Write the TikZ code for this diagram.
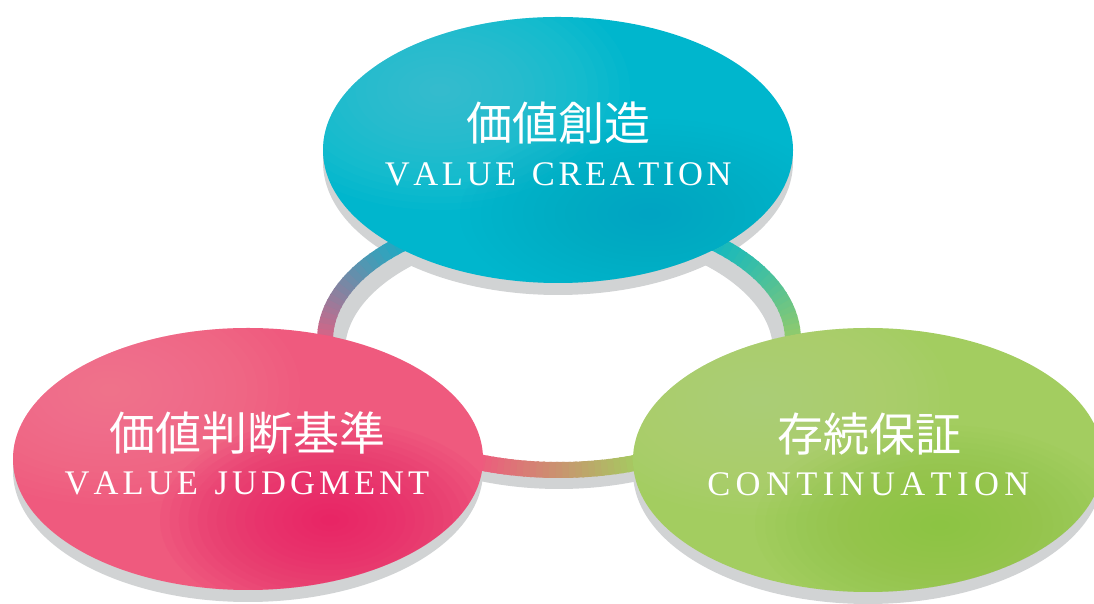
\documentclass[tikz,border=0pt]{standalone}
\usepackage{fontspec}
\newfontfamily\cjk{Noto Sans CJK JP}
\newfontfamily\capsf{Liberation Serif}
\usetikzlibrary{shapes.geometric}
\definecolor{cyanC}{HTML}{00B6CD}
\definecolor{cyanL}{HTML}{5ACDDD}
\definecolor{cyanD}{HTML}{00A4C2}
\definecolor{pinkC}{HTML}{EF5A7E}
\definecolor{pinkL}{HTML}{F5899C}
\definecolor{pinkD}{HTML}{E8105E}
\definecolor{greenC}{HTML}{A3CD60}
\definecolor{greenL}{HTML}{BCDC8C}
\definecolor{greenD}{HTML}{88C43A}
\definecolor{shadowC}{HTML}{D1D3D4}
\makeatletter
\newcommand\lsp[2]{\def\lsp@k{#1}\lsp@go#2\relax}
\def\lsp@go#1{\ifx#1\relax\else#1\kern\lsp@k\expandafter\lsp@go\fi}
\makeatother
\newcommand\softspot[5]{% color, x, y, rx, ry
  \foreach \k in {1,...,18}{
    \fill[#1, fill opacity=0.055] (#2,#3) ellipse[x radius={#4*\k/18}, y radius={#5*\k/18}];
  }}
\begin{document}
\begin{tikzpicture}[x=1pt,y=1pt,
  bubble/.style={ellipse, minimum width=470pt, minimum height=266pt, inner sep=0pt, draw=none},
  ringseg/.style={line width=16pt},
  cjkt/.style={text=white, font=\cjk\fontsize{46}{50}\selectfont, inner sep=0pt},
  ent/.style={text=white, font=\capsf\fontsize{34.5}{38}\selectfont, inner sep=0pt, anchor=base}]
\useasboundingbox (0,0) rectangle (1094,604);
\clip (0,0) rectangle (1094,604);
% ellipse shadows
\fill[shadowC] (558,442) ellipse[x radius=235, y radius=133];
\fill[shadowC] (248,133) ellipse[x radius=235, y radius=131];
\fill[shadowC] (868,132) ellipse[x radius=235, y radius=132];
% ring shadow
\draw[shadowC, line width=20pt] (559,253) ellipse[x radius=224, y radius=128];
% ring solid parts
\draw[ringseg, cyanC] ({559+234*cos(54)},{264+130*sin(54)}) arc[start angle=54, end angle=126, x radius=234, y radius=130];
\draw[ringseg, pinkC] ({559+234*cos(184)},{264+130*sin(184)}) arc[start angle=184, end angle=251, x radius=234, y radius=130];
\draw[ringseg, greenC] ({559+234*cos(289)},{264+130*sin(289)}) arc[start angle=289, end angle=356, x radius=234, y radius=130];
% ring gradient parts
\foreach \s/\e/\ca/\cb in {125/185/cyanC/pinkC, 250/290/pinkC/greenC, 355/415/greenC/cyanC}{
  \foreach \i in {0,...,24}{
    \pgfmathsetmacro\a{\s+\i*(\e-\s)/25}
    \pgfmathsetmacro\d{(\e-\s)/25+0.6}
    \pgfmathtruncatemacro\p{\i*4+2}
    \draw[ringseg, draw=\cb!\p!\ca] ({559+234*cos(\a)},{264+130*sin(\a)}) arc[start angle=\a, delta angle=\d, x radius=234, y radius=130];
  }
}
% ellipses
\node[bubble, fill=cyanC] (vc) at (558,454) {};
\begin{scope}
  \clip (558,454) ellipse[x radius=235, y radius=133];
  \softspot{cyanL}{440}{514}{190}{120}
  \softspot{cyanD}{650}{390}{190}{95}
\end{scope}
\node[bubble, fill=pinkC, minimum height=262pt] (vj) at (248,145) {};
\begin{scope}
  \clip (248,145) ellipse[x radius=235, y radius=131];
  \softspot{pinkL}{110}{214}{190}{115}
  \softspot{pinkD}{330}{84}{170}{100}
\end{scope}
\node[bubble, fill=greenC, minimum height=264pt] (ct) at (868,144) {};
\begin{scope}
  \clip (868,144) ellipse[x radius=235, y radius=132];
  \softspot{greenL}{760}{204}{190}{115}
  \softspot{greenD}{940}{79}{185}{100}
\end{scope}
% texts
\node[cjkt] (vcj) at (558,481) {価値創造};
\node[ent] (vce) at (560,418) {\lsp{3.6pt}{VALUE~CREATION}};
\node[cjkt] (vjj) at (247,171) {価値判断基準};
\node[ent] (vje) at (249,109) {\lsp{4.1pt}{VALUE~JUDGMENT}};
\node[cjkt] (ctj) at (869,170) {存続保証};
\node[ent] (cte) at (871,108) {\lsp{5.4pt}{CONTINUATION}};
\end{tikzpicture}
\end{document}
